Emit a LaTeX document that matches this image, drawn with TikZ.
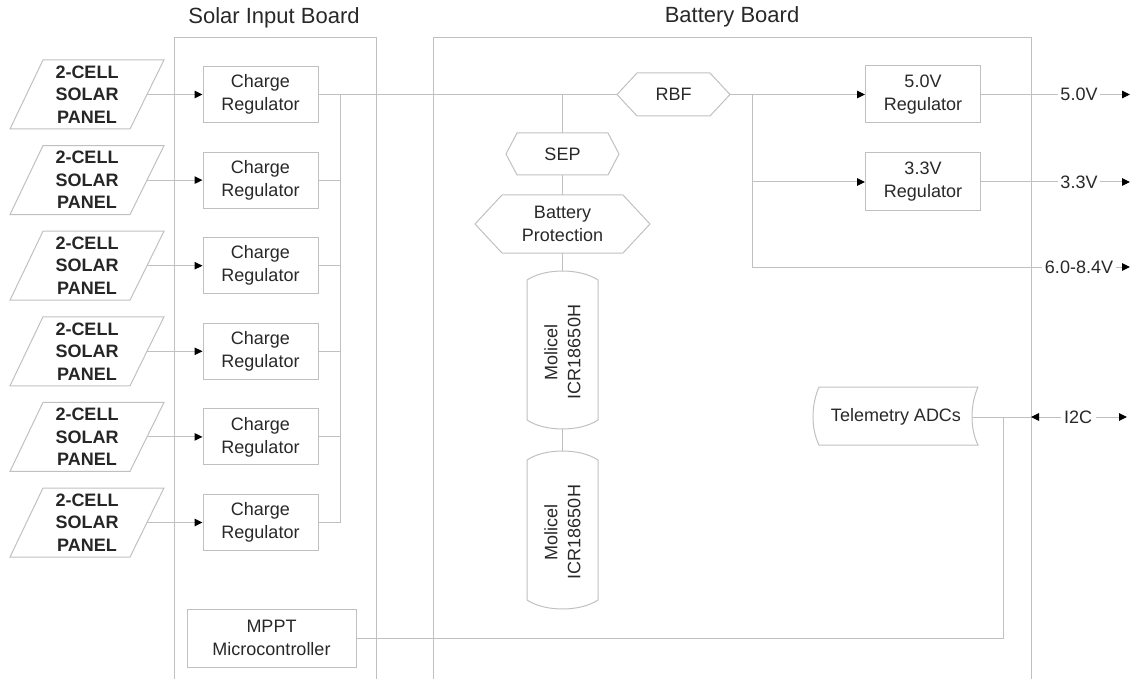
\documentclass[tikz,border=0pt]{standalone}
\usepackage{fontspec}
\setmainfont{Liberation Sans}
\usetikzlibrary{arrows.meta}
\definecolor{ln}{RGB}{192,192,192}
\definecolor{tx}{RGB}{40,40,40}
\begin{document}
\begin{tikzpicture}[x=1pt,y=-1pt,line width=1pt,
  every node/.style={text=tx,font=\fontsize{18}{23}\selectfont,align=center,inner sep=0pt},
  wire/.style={draw=ln},
  arr/.style={draw=ln,-{Triangle[length=8pt,width=7.5pt,color=black]}},
  box/.style={draw=ln,minimum width=115pt,minimum height=56pt},
  title/.style={font=\fontsize{22}{26}\selectfont},
  lbl/.style={fill=white,inner sep=2pt}]
\useasboundingbox (0,0) rectangle (1135,679);

% boards
\draw[wire] (174,679) -- (174,38) -- (376,38) -- (376,679);
\draw[wire] (433,679) -- (433,38) -- (1031,38) -- (1031,679);
\node[title] (tsolar) at (274,18) {Solar Input Board};
\node[title] (tbatt) at (732,17) {Battery Board};

% panels and charge regulators
\foreach \i/\cy in {0/94.5,1/180.1,2/265.7,3/351.3,4/436.9,5/522.5}{
  \draw[wire] (10,\cy+34.5) -- (43,\cy-34.5) -- (164,\cy-34.5) -- (130,\cy+34.5) -- cycle;
  \node[font=\fontsize{18}{22.5}\selectfont\bfseries,text=black!85] (p\i) at (87,\cy) {2-CELL\\SOLAR\\PANEL};
  \coordinate (pe\i) at (147,\cy);
  \node[box] (cr\i) at (260.5,\cy) {Charge\\Regulator};
  \coordinate (bus\i) at (340,\cy);
  \draw[arr] (pe\i) -- (cr\i.west);
  \draw[wire] (cr\i.east) -- (bus\i);
}
\draw[wire] (bus0) -- (bus5);

% RBF
\draw[wire] (617,94.5) -- (637,73) -- (710,73) -- (730,94.5) -- (710,116) -- (637,116) -- cycle;
\node (rbf) at (673.5,94.5) {RBF};
\coordinate (rbfW) at (617,94.5);
\coordinate (rbfE) at (730,94.5);
\draw[wire] (cr0.east) -- (rbfW);

% SEP
\draw[wire] (506,154) -- (517,133) -- (608,133) -- (619,154) -- (608,175) -- (517,175) -- cycle;
\node (sep) at (562.5,154) {SEP};
\coordinate (sepN) at (562.5,133);
\coordinate (sepS) at (562.5,175);
\coordinate (tap) at (562.5,94.5);
\draw[wire] (tap) -- (sepN);

% Battery protection
\draw[wire] (475,224) -- (502,195) -- (623,195) -- (650,224) -- (623,253) -- (502,253) -- cycle;
\node (bp) at (562.5,224) {Battery\\Protection};
\coordinate (bpN) at (562.5,195);
\coordinate (bpS) at (562.5,253);
\draw[wire] (sepS) -- (bpN);

% cells
\foreach \j/\t in {1/280,2/460}{
  \draw[wire] (527,\t) .. controls (545,\t-12) and (580,\t-12) .. (598,\t)
     -- (598,\t+140) .. controls (580,\t+152) and (545,\t+152) .. (527,\t+140) -- cycle;
  \node[rotate=90] (cell\j) at (562.5,\t+72) {Molicel\\ICR18650H};
  \coordinate (cellN\j) at (562.5,\t-9);
  \coordinate (cellS\j) at (562.5,\t+149);
}
\draw[wire] (bpS) -- (cellN1);
\draw[wire] (cellS1) -- (cellN2);

% output regulators
\node[box,minimum height=57pt] (r5) at (923,94.5) {5.0V\\Regulator};
\node[box,minimum height=58pt] (r3) at (923,182) {3.3V\\Regulator};
\coordinate (j1) at (752,94.5);
\coordinate (j2) at (752,182);
\coordinate (j3) at (752,267);
\draw[arr] (rbfE) -- (r5.west);
\draw[wire] (j1) -- (j3);
\draw[arr] (j2) -- (r3.west);

\node[lbl] (o5) at (1079,94.5) {5.0V};
\node[lbl] (o3) at (1079,182) {3.3V};
\node[lbl] (o68) at (1079,267) {6.0-8.4V};
\coordinate (e5) at (1130,94.5);
\coordinate (e3) at (1130,182);
\coordinate (e68) at (1130,267);
\draw[wire] (r5.east) -- (o5.west);
\draw[arr] (o5.east) -- (e5);
\draw[wire] (r3.east) -- (o3.west);
\draw[arr] (o3.east) -- (e3);
\draw[wire] (j3) -- (o68.west);
\draw[arr] (o68.east) -- (e68);

% telemetry
\draw[wire] (819,387) -- (978,387) .. controls (970,405) and (970,429) .. (978,445)
  -- (819,445) .. controls (811,429) and (811,405) .. (819,387) -- cycle;
\node (tel) at (896,417) {Telemetry ADCs};
\coordinate (telE) at (972,417);
\coordinate (i2cL) at (1031,417);
\coordinate (i2cR) at (1127,417);
\coordinate (tj) at (1003,417);
\draw[wire] (telE) -- (i2cL);
\node[lbl,inner sep=3pt] (i2c) at (1078,417) {I2C};
\draw[arr] (i2c.west) -- (i2cL);
\draw[arr] (i2c.east) -- (i2cR);

% MPPT
\node[box,minimum width=169pt,minimum height=58pt] (mppt) at (271.5,638) {MPPT\\Microcontroller};
\draw[wire] (mppt.east) -- (tj |- mppt.east) -- (tj);
\end{tikzpicture}
\end{document}
